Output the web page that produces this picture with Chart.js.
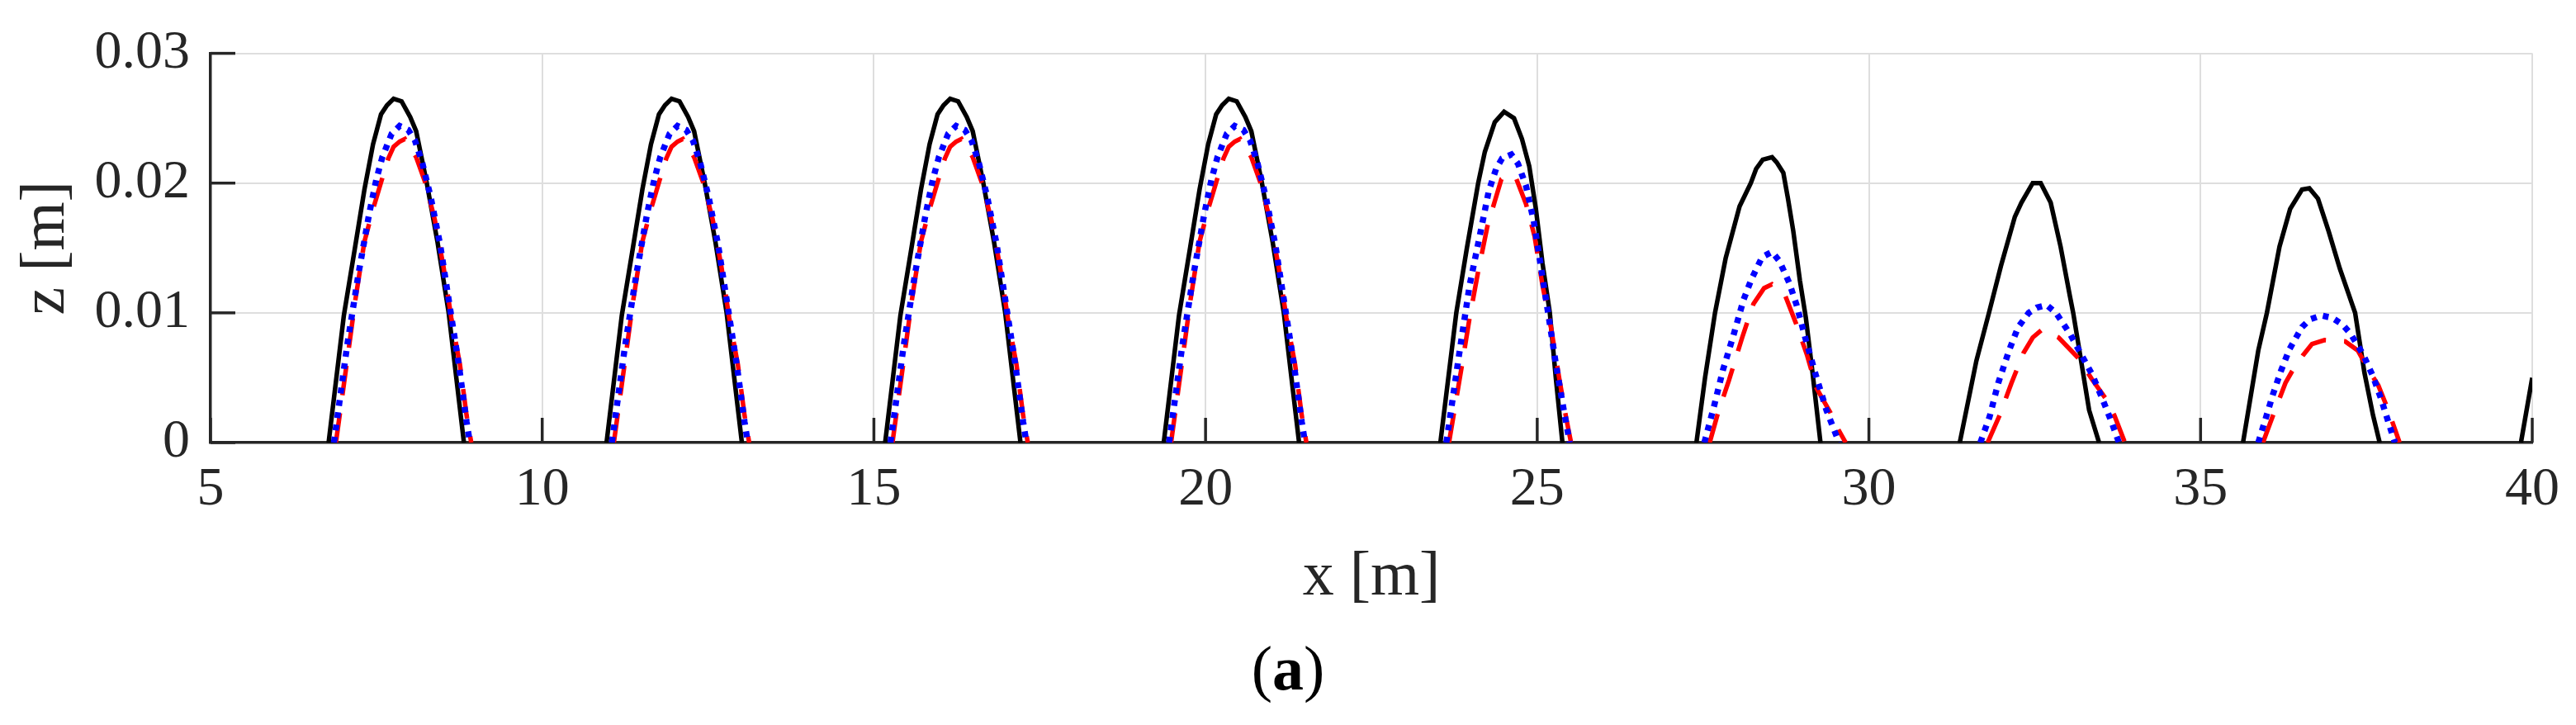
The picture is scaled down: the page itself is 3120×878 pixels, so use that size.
<!DOCTYPE html>
<html>
<head>
<meta charset="utf-8">
<script src="https://cdn.jsdelivr.net/npm/chart.js@4.4.0/dist/chart.umd.min.js"></script>
<style>
  html, body { margin: 0; padding: 0; background: #ffffff; }
  #wrap { width: 3120px; height: 878px; }
</style>
</head>
<body>
<div id="wrap"><canvas id="c" width="3120" height="878"></canvas></div>
<script>
// ---------------- data ----------------
const xTicks = [5, 10, 15, 20, 25, 30, 35, 40];
const yTickLabels = ['0', '0.01', '0.02', '0.03'];
const xTitle = 'x [m]';
const yTitle = 'z [m]';
const captionParts = ['(', 'a', ')'];

// black solid line, one row per hump
const blackX = [
  [6.78, 7.01, 7.18, 7.32, 7.45, 7.57, 7.66, 7.76, 7.88, 8.01, 8.10, 8.26, 8.42, 8.59, 8.82],
  [10.97, 11.20, 11.37, 11.51, 11.64, 11.76, 11.85, 11.95, 12.07, 12.20, 12.29, 12.45, 12.61, 12.78, 13.01],
  [15.17, 15.40, 15.57, 15.71, 15.84, 15.96, 16.05, 16.15, 16.27, 16.40, 16.49, 16.65, 16.81, 16.98, 17.21],
  [19.37, 19.60, 19.77, 19.91, 20.04, 20.16, 20.25, 20.35, 20.47, 20.60, 20.69, 20.85, 21.01, 21.18, 21.41],
  [23.54, 23.78, 23.94, 24.11, 24.21, 24.36, 24.50, 24.65, 24.77, 24.88, 24.98, 25.08, 25.19, 25.28, 25.38],
  [27.40, 27.53, 27.68, 27.84, 28.05, 28.22, 28.30, 28.40, 28.54, 28.61, 28.71, 28.78, 28.86, 28.96, 29.05, 29.15, 29.27],
  [31.37, 31.62, 31.81, 31.99, 32.20, 32.30, 32.47, 32.59, 32.74, 32.89, 33.03, 33.08, 33.18, 33.32, 33.47],
  [35.64, 35.87, 36.00, 36.19, 36.35, 36.53, 36.64, 36.77, 36.93, 37.10, 37.33, 37.47, 37.60, 37.70],
  [39.83, 40.00]
];
const blackZ = [
  [0, 0.0098, 0.0151, 0.0195, 0.0230, 0.0253, 0.0260, 0.0265, 0.0263, 0.0251, 0.0240, 0.0200, 0.0155, 0.0100, 0],
  [0, 0.0098, 0.0151, 0.0195, 0.0230, 0.0253, 0.0260, 0.0265, 0.0263, 0.0251, 0.0240, 0.0200, 0.0155, 0.0100, 0],
  [0, 0.0098, 0.0151, 0.0195, 0.0230, 0.0253, 0.0260, 0.0265, 0.0263, 0.0251, 0.0240, 0.0200, 0.0155, 0.0100, 0],
  [0, 0.0098, 0.0151, 0.0195, 0.0230, 0.0253, 0.0260, 0.0265, 0.0263, 0.0251, 0.0240, 0.0200, 0.0155, 0.0100, 0],
  [0, 0.0100, 0.0150, 0.0200, 0.0224, 0.0247, 0.0255, 0.0250, 0.0234, 0.0213, 0.0180, 0.0138, 0.0100, 0.0050, 0],
  [0, 0.0050, 0.0100, 0.0142, 0.0182, 0.0200, 0.0211, 0.0218, 0.0220, 0.0216, 0.0208, 0.0188, 0.0163, 0.0125, 0.0096, 0.0054, 0],
  [0, 0.0063, 0.0100, 0.0136, 0.0174, 0.0185, 0.0200, 0.0200, 0.0185, 0.0151, 0.0113, 0.0100, 0.0069, 0.0025, 0],
  [0, 0.0071, 0.0100, 0.0151, 0.0180, 0.0195, 0.0196, 0.0188, 0.0163, 0.0134, 0.0100, 0.0054, 0.0021, 0],
  [0, 0.0050]
];

// blue dotted line
const blueX = [
  [6.86, 7.06, 7.23, 7.39, 7.50, 7.59, 7.66, 7.73, 7.85, 7.98, 8.08, 8.19, 8.32, 8.46, 8.60, 8.74, 8.86, 8.91],
  [11.05, 11.25, 11.42, 11.58, 11.69, 11.78, 11.85, 11.92, 12.04, 12.17, 12.27, 12.38, 12.51, 12.65, 12.79, 12.93, 13.05, 13.10],
  [15.25, 15.45, 15.62, 15.78, 15.89, 15.98, 16.05, 16.12, 16.24, 16.37, 16.47, 16.58, 16.71, 16.85, 16.99, 17.13, 17.25, 17.30],
  [19.45, 19.65, 19.82, 19.98, 20.09, 20.18, 20.25, 20.32, 20.44, 20.57, 20.67, 20.78, 20.91, 21.05, 21.19, 21.33, 21.45, 21.50],
  [23.63, 23.82, 23.98, 24.16, 24.27, 24.38, 24.47, 24.61, 24.71, 24.83, 24.95, 25.06, 25.17, 25.28, 25.40, 25.49],
  [27.52, 27.67, 27.80, 27.96, 28.11, 28.23, 28.39, 28.54, 28.65, 28.80, 28.91, 29.05, 29.20, 29.36, 29.55],
  [31.68, 31.82, 31.95, 32.12, 32.25, 32.41, 32.53, 32.68, 32.82, 33.03, 33.20, 33.37, 33.51, 33.65, 33.77],
  [35.87, 35.99, 36.09, 36.21, 36.34, 36.53, 36.65, 36.82, 36.99, 37.14, 37.26, 37.45, 37.60, 37.72, 37.83, 37.93]
];
const blueZ = [
  [0, 0.0075, 0.0130, 0.0176, 0.0203, 0.0220, 0.0229, 0.0238, 0.0244, 0.0241, 0.0233, 0.0216, 0.0189, 0.0153, 0.0107, 0.0061, 0.0016, 0],
  [0, 0.0075, 0.0130, 0.0176, 0.0203, 0.0220, 0.0229, 0.0238, 0.0244, 0.0241, 0.0233, 0.0216, 0.0189, 0.0153, 0.0107, 0.0061, 0.0016, 0],
  [0, 0.0075, 0.0130, 0.0176, 0.0203, 0.0220, 0.0229, 0.0238, 0.0244, 0.0241, 0.0233, 0.0216, 0.0189, 0.0153, 0.0107, 0.0061, 0.0016, 0],
  [0, 0.0075, 0.0130, 0.0176, 0.0203, 0.0220, 0.0229, 0.0238, 0.0244, 0.0241, 0.0233, 0.0216, 0.0189, 0.0153, 0.0107, 0.0061, 0.0016, 0],
  [0, 0.0067, 0.0121, 0.0166, 0.0194, 0.0211, 0.0219, 0.0222, 0.0215, 0.0198, 0.0170, 0.0134, 0.0098, 0.0061, 0.0025, 0],
  [0, 0.0029, 0.0056, 0.0083, 0.0110, 0.0126, 0.0143, 0.0147, 0.0140, 0.0123, 0.0106, 0.0079, 0.0052, 0.0025, 0],
  [0, 0.0020, 0.0046, 0.0072, 0.0089, 0.0100, 0.0104, 0.0106, 0.0100, 0.0084, 0.0068, 0.0052, 0.0035, 0.0017, 0],
  [0, 0.0020, 0.0037, 0.0055, 0.0072, 0.0089, 0.0095, 0.0098, 0.0096, 0.0091, 0.0084, 0.0068, 0.0051, 0.0034, 0.0016, 0]
];

// red dashed line
const redX = [
  [6.89, 7.08, 7.18, 7.32, 7.45, 7.59, 7.68, 7.76, 7.85, 7.93, 8.10, 8.24, 8.38, 8.51, 8.63, 8.76, 8.86, 8.93],
  [11.08, 11.27, 11.37, 11.51, 11.64, 11.78, 11.87, 11.95, 12.04, 12.12, 12.29, 12.43, 12.57, 12.70, 12.82, 12.95, 13.05, 13.12],
  [15.28, 15.47, 15.57, 15.71, 15.84, 15.98, 16.07, 16.15, 16.24, 16.32, 16.49, 16.63, 16.77, 16.90, 17.02, 17.15, 17.25, 17.32],
  [19.48, 19.67, 19.77, 19.91, 20.04, 20.18, 20.27, 20.35, 20.44, 20.52, 20.69, 20.83, 20.97, 21.10, 21.22, 21.35, 21.45, 21.52],
  [23.67, 23.86, 23.98, 24.11, 24.25, 24.36, 24.46, 24.57, 24.68, 24.83, 24.96, 25.08, 25.21, 25.33, 25.44, 25.51],
  [27.60, 27.72, 27.89, 28.09, 28.26, 28.42, 28.54, 28.74, 28.90, 29.07, 29.21, 29.42, 29.54, 29.65],
  [31.79, 31.97, 32.15, 32.33, 32.47, 32.61, 32.86, 33.16, 33.36, 33.57, 33.70, 33.86],
  [35.94, 36.10, 36.28, 36.38, 36.54, 36.68, 36.87, 37.18, 37.37, 37.51, 37.68, 37.83, 38.00]
];
const redZ = [
  [0, 0.0071, 0.0109, 0.0155, 0.0180, 0.0204, 0.0219, 0.0228, 0.0232, 0.0234, 0.0220, 0.0200, 0.0172, 0.0136, 0.0096, 0.0060, 0.0021, 0],
  [0, 0.0071, 0.0109, 0.0155, 0.0180, 0.0204, 0.0219, 0.0228, 0.0232, 0.0234, 0.0220, 0.0200, 0.0172, 0.0136, 0.0096, 0.0060, 0.0021, 0],
  [0, 0.0071, 0.0109, 0.0155, 0.0180, 0.0204, 0.0219, 0.0228, 0.0232, 0.0234, 0.0220, 0.0200, 0.0172, 0.0136, 0.0096, 0.0060, 0.0021, 0],
  [0, 0.0071, 0.0109, 0.0155, 0.0180, 0.0204, 0.0219, 0.0228, 0.0232, 0.0234, 0.0220, 0.0200, 0.0172, 0.0136, 0.0096, 0.0060, 0.0021, 0],
  [0, 0.0058, 0.0096, 0.0132, 0.0167, 0.0186, 0.0203, 0.0207, 0.0204, 0.0184, 0.0159, 0.0121, 0.0088, 0.0050, 0.0018, 0],
  [0, 0.0022, 0.0048, 0.0081, 0.0107, 0.0119, 0.0122, 0.0113, 0.0092, 0.0067, 0.0042, 0.0023, 0.0010, 0],
  [0, 0.0021, 0.0046, 0.0069, 0.0081, 0.0087, 0.0081, 0.0065, 0.0049, 0.0034, 0.0021, 0],
  [0, 0.0022, 0.0046, 0.0055, 0.0067, 0.0076, 0.0079, 0.0078, 0.0071, 0.0058, 0.0044, 0.0025, 0]
];

// ---------------- build point lists (null breaks between humps) ----------------
function toPoints(xs, zs) {
  const pts = [];
  xs.forEach((row, i) => {
    row.forEach((xv, j) => pts.push({ x: xv, y: zs[i][j] }));
    pts.push({ x: row[row.length - 1], y: null });
  });
  return pts;
}

const FONT = '"Liberation Serif", "DejaVu Serif", serif';
const AXIS_COLOR = '#262626';
const GRID_COLOR = '#dedede';

const inwardTicks = {
  id: 'inwardTicks',
  afterDraw(chart) {
    const ctx = chart.ctx;
    const area = chart.chartArea;
    const xs = chart.scales.x, ys = chart.scales.y;
    ctx.save();
    ctx.setLineDash([]);
    ctx.globalAlpha = 1;
    ctx.strokeStyle = AXIS_COLOR;
    ctx.lineWidth = 3.5;
    ctx.lineCap = 'butt';
    for (const v of xTicks) {
      const px = xs.getPixelForValue(v);
      ctx.beginPath();
      ctx.moveTo(px, area.bottom);
      ctx.lineTo(px, area.bottom - 30);
      ctx.stroke();
    }
    yTickLabels.forEach((t, i) => {
      const py = ys.getPixelForValue(i * 0.01);
      ctx.beginPath();
      ctx.moveTo(area.left, py);
      ctx.lineTo(area.left + 30, py);
      ctx.stroke();
    });
    ctx.restore();
  }
};

const caption = {
  id: 'caption',
  afterDraw(chart) {
    const ctx = chart.ctx;
    const size = 76;
    const fonts = [`${size}px ${FONT}`, `bold ${size}px ${FONT}`, `${size}px ${FONT}`];
    ctx.save();
    ctx.fillStyle = '#000000';
    ctx.textBaseline = 'middle';
    ctx.textAlign = 'left';
    let total = 0;
    const widths = captionParts.map((p, i) => { ctx.font = fonts[i]; const w = ctx.measureText(p).width; total += w; return w; });
    let x = chart.width / 2 - total / 2;
    captionParts.forEach((p, i) => { ctx.font = fonts[i]; ctx.fillText(p, x, 815); x += widths[i]; });
    ctx.restore();
  }
};

new Chart(document.getElementById('c'), {
  type: 'line',
  data: {
    datasets: [
      { label: 'blue', data: toPoints(blueX, blueZ), borderColor: '#0000ff', borderWidth: 7.5,
        borderDash: [7, 8], borderCapStyle: 'butt', pointRadius: 0, fill: false, tension: 0, spanGaps: false },
      { label: 'red', data: toPoints(redX, redZ), borderColor: '#ff0000', borderWidth: 5.5,
        borderDash: [36, 22], borderCapStyle: 'butt', pointRadius: 0, fill: false, tension: 0, spanGaps: false },
      { label: 'black', data: toPoints(blackX, blackZ), borderColor: '#000000', borderWidth: 5.5,
        pointRadius: 0, fill: false, tension: 0, spanGaps: false }
    ]
  },
  options: {
    responsive: false,
    devicePixelRatio: 1,
    animation: false,
    events: [],
    layout: { padding: { left: 0, right: 53, top: 59, bottom: 0 } },
    plugins: { legend: { display: false }, tooltip: { enabled: false }, title: { display: false } },
    scales: {
      x: {
        type: 'linear', min: xTicks[0], max: xTicks[xTicks.length - 1],
        afterBuildTicks: s => { s.ticks = xTicks.map(v => ({ value: v })); },
        afterFit: s => { s.height = 342; },
        ticks: { color: AXIS_COLOR, font: { family: FONT, size: 66 }, padding: 18, maxRotation: 0,
                 callback: v => String(v) },
        grid: { color: c => (c.tick && c.tick.value === xTicks[0]) ? 'rgba(0,0,0,0)' : GRID_COLOR,
                lineWidth: 2, drawTicks: false },
        border: { display: true, color: AXIS_COLOR, width: 3.5 },
        title: { display: true, text: xTitle, color: AXIS_COLOR, font: { family: FONT, size: 76 },
                 padding: { top: 0, bottom: 132 } }
      },
      y: {
        type: 'linear', min: 0, max: 0.03,
        afterBuildTicks: s => { s.ticks = yTickLabels.map((t, i) => ({ value: i * 0.01 })); },
        afterFit: s => { s.width = 255; },
        ticks: { color: AXIS_COLOR, font: { family: FONT, size: 66 }, padding: 25,
                 callback: (v, i) => yTickLabels[i] },
        grid: { color: c => (c.tick && c.tick.value === 0) ? 'rgba(0,0,0,0)' : GRID_COLOR,
                lineWidth: 2, drawTicks: false },
        border: { display: true, color: AXIS_COLOR, width: 3.5 },
        title: { display: true, text: yTitle, color: AXIS_COLOR, font: { family: FONT, size: 76 },
                 padding: { top: 11, bottom: 0 } }
      }
    }
  },
  plugins: [inwardTicks, caption]
});
</script>
</body>
</html>
